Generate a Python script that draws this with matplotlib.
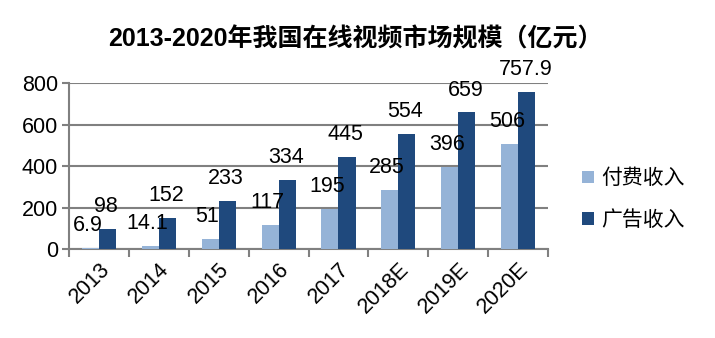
import matplotlib
matplotlib.use("Agg")
import matplotlib.pyplot as plt
import numpy as np

plt.rcParams['font.family'] = ['Liberation Sans', 'Noto Sans CJK SC']

years = ['2013', '2014', '2015', '2016', '2017', '2018E', '2019E', '2020E']
paid = [6.9, 14.1, 51, 117, 195, 285, 396, 506]
ads = [98, 152, 233, 334, 445, 554, 659, 757.9]
paid_labels = ['6.9', '14.1', '51', '117', '195', '285', '396', '506']
ads_labels = ['98', '152', '233', '334', '445', '554', '659', '757.9']

light = '#95b3d7'
dark = '#1f497d'
grey = '#808080'

fig = plt.figure(figsize=(7.15, 3.38), dpi=100)
ax = fig.add_axes([0.0965, 0.263, 0.67, 0.491])

x = np.arange(len(years))
w = 0.285
b1 = ax.bar(x - w / 2, paid, w, color=light, label='付费收入', zorder=3)
b2 = ax.bar(x + w / 2, ads, w, color=dark, label='广告收入', zorder=3)

for rect, lab in zip(b1, paid_labels):
    ax.annotate(lab, (rect.get_x() + rect.get_width() / 2, rect.get_height()),
                xytext=(-2, 16), textcoords='offset points',
                ha='center', va='center', fontsize=15.5, zorder=4)
for rect, lab in zip(b2, ads_labels):
    ax.annotate(lab, (rect.get_x() + rect.get_width() / 2, rect.get_height()),
                xytext=(-1, 16), textcoords='offset points',
                ha='center', va='center', fontsize=15.5, zorder=4,
                annotation_clip=False)

ax.set_xlim(-0.5, len(years) - 0.5)
ax.set_ylim(0, 800)
ax.set_yticks([0, 200, 400, 600, 800])
ax.yaxis.grid(True, color=grey, linewidth=1.5, zorder=0)
ax.tick_params(axis='y', labelsize=15.5, length=5, width=1.5, color=grey, pad=3)

ax.set_xticks(x)
ax.set_xticklabels(years, rotation=45, ha='right', va='top',
                   rotation_mode='anchor', fontsize=15.5)
ax.tick_params(axis='x', which='major', length=0, pad=7)
ax.set_xticks(np.arange(-0.5, len(years)), minor=True)
ax.tick_params(axis='x', which='minor', length=6, width=1.5, color=grey)

for s in ['top', 'right']:
    ax.spines[s].set_visible(False)
for s in ['left', 'bottom']:
    ax.spines[s].set_color(grey)
    ax.spines[s].set_linewidth(1.5)

leg = fig.legend(loc='center left', bbox_to_anchor=(0.8, 0.41), frameon=False,
                 fontsize=15, handlelength=0.55, handleheight=0.55,
                 handletextpad=0.35, labelspacing=1.05, borderpad=0)

fig.text(0.497, 0.885, '2013-2020年我国在线视频市场规模（亿元）', ha='center',
         va='center', fontsize=18, fontweight='bold')

fig.savefig('out.png', dpi=100)
